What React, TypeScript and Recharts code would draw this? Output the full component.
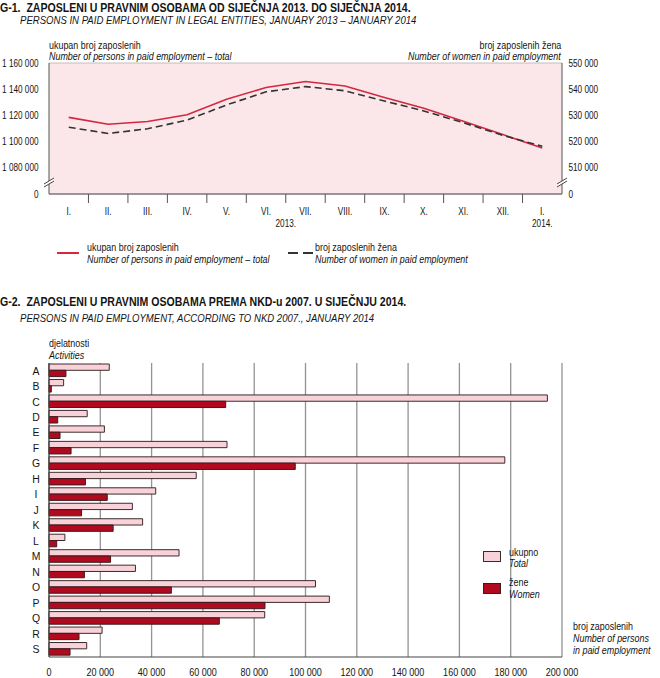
import React from "react";
import { LineChart, Line, BarChart, Bar, XAxis, YAxis, CartesianGrid } from "recharts";

// G-1: monthly employment, Jan 2013 - Jan 2014
const months = ["I.", "II.", "III.", "IV.", "V.", "VI.", "VII.", "VIII.", "IX.", "X.", "XI.", "XII.", "I."];
const totalEmployed = [1118500, 1113300, 1115400, 1120500, 1132300, 1141300, 1145900, 1142500, 1133600, 1125400, 1115600, 1105400, 1095100];
const womenEmployed = [525500, 523100, 524900, 528200, 534000, 539000, 541000, 539400, 535500, 531700, 527200, 522400, 518200];
const leftTicks = [1060000, 1080000, 1100000, 1120000, 1140000, 1160000];
const rightTicks = [500000, 510000, 520000, 530000, 540000, 550000];

// G-2: employment by NKD 2007 activity, January 2014
const activities = ["A", "B", "C", "D", "E", "F", "G", "H", "I", "J", "K", "L", "M", "N", "O", "P", "Q", "R", "S"];
const activityTotal = [23500, 5700, 194300, 14900, 21600, 69400, 177700, 57400, 41600, 32500, 36500, 6200, 50700, 33700, 103900, 109300, 84100, 20700, 14700];
const activityWomen = [6600, 900, 68900, 3400, 4300, 8600, 96000, 14200, 22700, 12700, 25000, 3000, 24000, 13800, 47700, 84200, 66400, 11700, 8200];
const barTicks = [0, 20000, 40000, 60000, 80000, 100000, 120000, 140000, 160000, 180000, 200000];

const FONT = '"Liberation Sans", Arial, sans-serif';
const SX = 0.82; // no narrow font installed, squeeze Liberation Sans instead
const RED = "#d3283f";
const PINK_BG = "#fbe6e9";
const BAR_PINK = "#f8d2d8";
const BAR_RED = "#b10a1f";
const TXT = "#141414";

const fmt = (v: number) => String(v).replace(/\B(?=(\d{3})+(?!\d))/g, " ");

const lineData = months.map((m, i) => ({ month: m, total: totalEmployed[i], women: womenEmployed[i] }));
const barData = activities.map((a, i) => ({ act: a, total: activityTotal[i], women: activityWomen[i] }));

const W = 660;
const PLOT1_LEFT = 49;
const PLOT1_RIGHT = 98;
const HALF_BAND = (W - PLOT1_LEFT - PLOT1_RIGHT) / months.length / 2;

function SText({ x, y, anchor = "start", size = 10, sx = SX, children }: any) {
  return (
    <text
      transform={`translate(${x},${y}) scale(${sx},1)`}
      dy="0.35em"
      textAnchor={anchor}
      fontSize={size}
      fill={TXT}
    >
      {children}
    </text>
  );
}

function BreakMark({ x, y }: { x: number; y: number }) {
  return (
    <g>
      <polygon points={`${x - 5},${y + 3} ${x + 5},${y - 3} ${x + 5},${y} ${x - 5},${y + 6}`} fill="#fff" />
      <line x1={x - 5} y1={y + 3} x2={x + 5} y2={y - 3} stroke="#444" strokeWidth={1} />
      <line x1={x - 5} y1={y + 6} x2={x + 5} y2={y} stroke="#444" strokeWidth={1} />
    </g>
  );
}

function LeftTick(props: any) {
  const { x, y, payload } = props;
  const base = payload.value === leftTicks[0];
  return (
    <g>
      <SText x={x} y={y} anchor="end">{base ? "0" : fmt(payload.value)}</SText>
      {base && <BreakMark x={x + 10.5} y={y - 13} />}
    </g>
  );
}

function RightTick(props: any) {
  const { x, y, payload } = props;
  const base = payload.value === rightTicks[0];
  return (
    <g>
      <SText x={x} y={y}>{base ? "0" : fmt(payload.value)}</SText>
      {base && <BreakMark x={x - 6.5} y={y - 13} />}
    </g>
  );
}

function MonthTick(props: any) {
  const { x, y, payload, index } = props;
  const last = index === months.length - 1;
  return (
    <g>
      <SText x={x} y={y + 17} anchor="middle">{payload.value}</SText>
      {!last && <line x1={x + HALF_BAND} y1={y} x2={x + HALF_BAND} y2={y + 9} stroke="#555" />}
      {index === 6 && <SText x={x - HALF_BAND} y={y + 29} anchor="middle">2013.</SText>}
      {last && <SText x={x} y={y + 29} anchor="middle">2014.</SText>}
    </g>
  );
}

function ValueTick(props: any) {
  const { x, y, payload } = props;
  return <SText x={x} y={y + 15} anchor="middle" size={11}>{fmt(payload.value)}</SText>;
}

function ActTick(props: any) {
  const { x, y, payload } = props;
  return <SText x={x} y={y} anchor="middle" size={11} sx={0.95}>{payload.value}</SText>;
}

function T({ x, y, size = 10.5, sx = 0.85, bold, italic, right, children }: any) {
  const lh = Math.round(size + 2);
  const style: React.CSSProperties = {
    position: "absolute",
    top: y - lh / 2,
    fontSize: size,
    lineHeight: `${lh}px`,
    fontWeight: bold ? "bold" : "normal",
    fontStyle: italic ? "italic" : "normal",
    whiteSpace: "nowrap",
    color: TXT,
    transform: `scaleX(${sx})`,
    transformOrigin: right ? "right center" : "left center",
  };
  if (right) {
    style.right = W - x;
  } else {
    style.left = x;
  }
  return <div style={style}>{children}</div>;
}

export default function App() {
  return (
    <div style={{ position: "absolute", left: 0, top: 0, width: W, height: 678, fontFamily: FONT, background: "#fff", overflow: "hidden" }}>
      <T x={0} y={8} size={12} sx={0.88} bold>G-1.&nbsp; ZAPOSLENI U PRAVNIM OSOBAMA OD SIJEČNJA 2013. DO SIJEČNJA 2014.</T>
      <T x={20} y={20} size={11} sx={0.87} italic>PERSONS IN PAID EMPLOYMENT IN LEGAL ENTITIES, JANUARY 2013 – JANUARY 2014</T>

      <T x={49} y={45}>ukupan broj zaposlenih</T>
      <T x={49} y={56} italic>Number of persons in paid employment – total</T>
      <T x={561} y={45} right>broj zaposlenih žena</T>
      <T x={561} y={56} italic right>Number of women in paid employment</T>

      <div style={{ position: "absolute", left: 0, top: 0 }}>
        <LineChart width={W} height={240} data={lineData} margin={{ top: 63, right: 0, bottom: 0, left: 0 }}>
          <CartesianGrid vertical={false} stroke="#c9bcbe" fill={PINK_BG} />
          <XAxis
            dataKey="month"
            interval={0}
            height={46}
            padding={{ left: HALF_BAND, right: HALF_BAND }}
            axisLine={{ stroke: "#555" }}
            tickLine={false}
            tickSize={0}
            tickMargin={0}
            tick={<MonthTick />}
          />
          <YAxis
            yAxisId="left"
            width={PLOT1_LEFT}
            domain={[leftTicks[0], leftTicks[leftTicks.length - 1]]}
            ticks={leftTicks}
            interval={0}
            axisLine={{ stroke: "#555" }}
            tickLine={false}
            tickSize={0}
            tickMargin={10.5}
            tick={<LeftTick />}
          />
          <YAxis
            yAxisId="right"
            orientation="right"
            width={PLOT1_RIGHT}
            domain={[rightTicks[0], rightTicks[rightTicks.length - 1]]}
            ticks={rightTicks}
            interval={0}
            axisLine={{ stroke: "#555" }}
            tickLine={false}
            tickSize={0}
            tickMargin={6.5}
            tick={<RightTick />}
          />
          <Line yAxisId="left" dataKey="total" stroke={RED} strokeWidth={1.6} dot={false} isAnimationActive={false} />
          <Line yAxisId="right" dataKey="women" stroke="#333" strokeWidth={1.6} strokeDasharray="7 4" dot={false} isAnimationActive={false} />
        </LineChart>
      </div>

      {/* legend G-1 */}
      <div style={{ position: "absolute", left: 57, top: 252, width: 22, height: 2, background: RED }} />
      <T x={87} y={247}>ukupan broj zaposlenih</T>
      <T x={87} y={259} italic>Number of persons in paid employment – total</T>
      <div style={{ position: "absolute", left: 288, top: 252, width: 10, height: 2, background: "#333" }} />
      <div style={{ position: "absolute", left: 303, top: 252, width: 10, height: 2, background: "#333" }} />
      <T x={315} y={247}>broj zaposlenih žena</T>
      <T x={315} y={259} italic>Number of women in paid employment</T>

      <T x={0} y={302} size={12} sx={0.88} bold>G-2.&nbsp; ZAPOSLENI U PRAVNIM OSOBAMA PREMA NKD-u 2007. U SIJEČNJU 2014.</T>
      <T x={20} y={318} size={11} sx={0.87} italic>PERSONS IN PAID EMPLOYMENT, ACCORDING TO NKD 2007., JANUARY 2014</T>
      <T x={49} y={343}>djelatnosti</T>
      <T x={49} y={355} italic>Activities</T>

      <div style={{ position: "absolute", left: 0, top: 330 }}>
        <BarChart
          width={W}
          height={348}
          data={barData}
          layout="vertical"
          barSize={6.3}
          barGap={0}
          margin={{ top: 33, right: 98, bottom: 0, left: 0 }}
        >
          <CartesianGrid horizontal={false} stroke="#939393" strokeWidth={1.3} />
          <XAxis
            type="number"
            domain={[0, 200000]}
            ticks={barTicks}
            interval={0}
            height={21}
            axisLine={{ stroke: "#444" }}
            tickLine={false}
            tickSize={0}
            tickMargin={0}
            tick={<ValueTick />}
          />
          <XAxis
            xAxisId="top"
            orientation="top"
            type="number"
            domain={[0, 200000]}
            height={0}
            axisLine={{ stroke: "#939393" }}
            tick={false}
            tickLine={false}
          />
          <YAxis
            type="category"
            dataKey="act"
            width={49}
            interval={0}
            axisLine={{ stroke: "#444" }}
            tickLine={false}
            tickSize={0}
            tickMargin={13}
            tick={<ActTick />}
          />
          <Bar dataKey="total" fill={BAR_PINK} stroke="#3c2b2d" strokeWidth={1} isAnimationActive={false} />
          <Bar dataKey="women" fill={BAR_RED} stroke="#3c1a1d" strokeWidth={1} isAnimationActive={false} />
        </BarChart>
      </div>

      {/* legend G-2 */}
      <div style={{ position: "absolute", left: 483, top: 551, width: 16, height: 9, background: BAR_PINK, border: "1px solid #3c2b2d" }} />
      <T x={509} y={552}>ukupno</T>
      <T x={509} y={563} italic>Total</T>
      <div style={{ position: "absolute", left: 483, top: 583, width: 16, height: 9, background: BAR_RED, border: "1px solid #3c1a1d" }} />
      <T x={509} y={582}>žene</T>
      <T x={509} y={594} italic>Women</T>

      <T x={573} y={626}>broj zaposlenih</T>
      <T x={573} y={638} italic>Number of persons</T>
      <T x={573} y={650} italic>in paid employment</T>
    </div>
  );
}
